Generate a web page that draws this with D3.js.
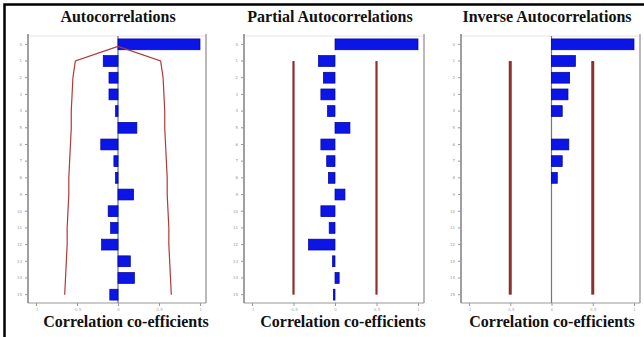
<!DOCTYPE html>
<html><head><meta charset="utf-8">
<script src="https://cdn.jsdelivr.net/npm/d3@7"></script>
<style>html,body{margin:0;padding:0;background:#fff;}svg{display:block;}</style>
</head><body>
<svg id="chart" width="644" height="337"></svg>
<script>
const lags = d3.range(0, 16);
const xTicks = [-1, -0.5, 0, 0.5, 1];
const xTickLabels = ["-1", "-0.5", "0", "0.5", "1"];
const panelTitles = ["Autocorrelations", "Partial Autocorrelations", "Inverse Autocorrelations"];
const axisTitle = "Correlation co-efficients";
const acf  = [1.0, -0.18, -0.11, -0.11, -0.03, 0.23, -0.21, -0.05, -0.03, 0.19, -0.12, -0.09, -0.2, 0.15, 0.2, -0.1];
const pacf = [1.0, -0.2, -0.14, -0.17, -0.09, 0.18, -0.17, -0.1, -0.08, 0.12, -0.17, -0.07, -0.32, -0.03, 0.05, -0.02];
const iacf = [1.0, 0.29, 0.22, 0.2, 0.13, 0, 0.21, 0.13, 0.07, 0, 0, 0, 0, 0, 0, 0];
const acfBand = [0, 0.52, 0.55, 0.56, 0.57, 0.57, 0.58, 0.59, 0.6, 0.6, 0.61, 0.62, 0.62, 0.63, 0.64, 0.65];
const constBand = [0.5, 0.5];

const svg = d3.select("#chart");

// outer frame
svg.append("path").attr("d", "M4.5,337 L4.5,4.5 L644,4.5")
  .attr("fill", "none").attr("stroke", "#000").attr("stroke-width", 2.5);

const panels = [
  {x0: 28, x1: 206, data: acf, title: panelTitles[0], tx: 118, bx: 126, zero: "#5670a0", band: "acf"},
  {x0: 244, x1: 424, data: pacf, title: panelTitles[1], tx: 330, bx: 343, zero: null, band: "const"},
  {x0: 461, x1: 640, data: iacf, title: panelTitles[2], tx: 547, bx: 552, zero: "#777", band: "const"}
];
const plotTop = 36, plotBottom = 303;

panels.forEach(p => {
  const g = svg.append("g");
  const x = d3.scaleLinear().domain([-1, 1]).range([p.x0 + 8, p.x1 - 6]);
  const y = d3.scaleBand().domain(lags).range([plotTop, plotBottom]).paddingInner(0.35).paddingOuter(0.175);
  const yc = d => y(d) + y.bandwidth() / 2;

  // frame
  g.append("line").attr("x1", p.x0).attr("x2", p.x1).attr("y1", plotTop).attr("y2", plotTop)
    .attr("stroke", "#e4e4e4").attr("stroke-width", 1);
  g.append("line").attr("x1", p.x1).attr("x2", p.x1).attr("y1", plotTop - 2).attr("y2", plotBottom)
    .attr("stroke", "#a8a8a8").attr("stroke-width", 1.6);

  // axes
  const xa = g.append("g").attr("transform", `translate(0,${plotBottom})`)
    .call(d3.axisBottom(x).tickValues(xTicks).tickFormat((d, i) => xTickLabels[i]).tickSize(3).tickPadding(2));
  xa.select(".domain").attr("d", `M${p.x0},0H${p.x1}`).attr("stroke", "#999").attr("stroke-width", 1.2);
  xa.selectAll(".tick line").attr("stroke", "#999");
  xa.selectAll("text").attr("fill", "#aaa").attr("font-size", 4).attr("font-family", "DejaVu Sans");

  const ya = g.append("g").attr("transform", `translate(${p.x0},0)`)
    .call(d3.axisLeft(y).tickSize(3).tickPadding(3));
  ya.select(".domain").attr("d", `M0,${plotTop - 2}V${plotBottom}`).attr("stroke", "#888").attr("stroke-width", 1.6);
  ya.selectAll(".tick line").attr("stroke", "#999");
  ya.selectAll("text").attr("fill", "#999").attr("font-size", 4).attr("font-family", "DejaVu Sans");

  // zero line
  if (p.zero) {
    g.append("line").attr("x1", x(0)).attr("x2", x(0)).attr("y1", plotTop).attr("y2", plotBottom)
      .attr("stroke", p.zero).attr("stroke-width", 1.2);
  }

  // bars
  g.selectAll("rect.bar").data(lags.filter(l => p.data[l] !== 0)).join("rect")
    .attr("class", "bar")
    .attr("x", l => Math.min(x(0), x(p.data[l])))
    .attr("width", l => Math.max(1, Math.abs(x(p.data[l]) - x(0))))
    .attr("y", l => y(l)).attr("height", y.bandwidth())
    .attr("fill", "#0b16e6").attr("stroke", "#00009a").attr("stroke-width", 0.7);

  // confidence bands
  if (p.band === "acf") {
    const line = d3.line().x(d => x(d[0])).y(d => d[1]);
    const left = lags.map(l => [-acfBand[l], yc(l) + (l === 0 ? 2 : 0)]);
    const right = lags.map(l => [acfBand[l], yc(l) + (l === 0 ? 2 : 0)]);
    [left, right].forEach(pts => g.append("path").attr("d", line(pts))
      .attr("fill", "none").attr("stroke", "#b03a3a").attr("stroke-width", 1.2));
  } else {
    [-constBand[0], constBand[1]].forEach(v => g.append("line")
      .attr("x1", x(v)).attr("x2", x(v)).attr("y1", yc(1)).attr("y2", yc(15))
      .attr("stroke", "#8e2f2f").attr("stroke-width", p.title === panelTitles[2] ? 3 : 2.2));
  }

  // titles
  svg.append("text").attr("x", p.tx).attr("y", 22).attr("text-anchor", "middle")
    .attr("font-family", "Liberation Serif").attr("font-weight", "bold").attr("font-size", 16)
    .attr("fill", "#111").text(p.title);
  svg.append("text").attr("x", p.bx).attr("y", 327).attr("text-anchor", "middle")
    .attr("font-family", "Liberation Serif").attr("font-weight", "bold").attr("font-size", 16)
    .attr("fill", "#111").text(axisTitle);
});
</script>
</body></html>
